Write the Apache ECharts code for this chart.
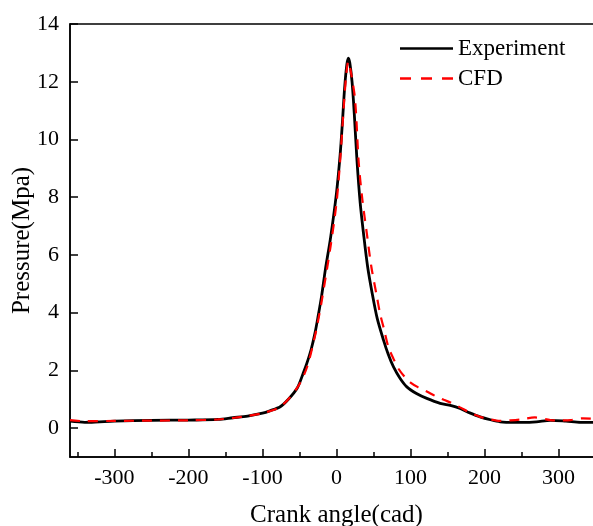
<!DOCTYPE html>
<html>
<head>
<meta charset="utf-8">
<script src="https://cdn.jsdelivr.net/npm/echarts@6/dist/echarts.min.js"></script>
<style>
html,body{margin:0;padding:0;background:#fff;}
#c{width:593px;height:526px;}
</style>
</head>
<body>
<div id="c"></div>
<script>
// Crank angle (cad) and pressure (MPa)
const expAngle = [-360,-340,-320,-300,-250,-200,-160,-140,-120,-100,-90,-76,-65,-53,-45,-40,-34,-29,-25,-20,-15,-8,0,5,8,11,14,16,18,21,24,27.6,32,36.5,42,48,55,63.5,70,77,86,95,108,122,140,155,167,180,194,208,221,240,253,270,289,310,330,360];
const expPressure = [0.24,0.2,0.22,0.24,0.27,0.28,0.3,0.36,0.42,0.52,0.6,0.74,1.0,1.39,1.9,2.25,2.75,3.3,3.85,4.6,5.5,6.6,8.15,9.5,10.6,11.8,12.6,12.82,12.65,12.0,10.9,9.3,7.8,6.74,5.6,4.7,3.8,3.05,2.55,2.12,1.72,1.43,1.2,1.03,0.86,0.78,0.68,0.53,0.39,0.29,0.22,0.2,0.2,0.22,0.27,0.24,0.2,0.2];
const cfdAngle = [-360,-340,-300,-250,-200,-160,-140,-120,-100,-76,-53,-40,-29,-25,-20,-8,0,5,10,13,16,19,25,30,35,41,47,54.6,59,64,70,77,84,92,100,110,122,133,145,155,167,180,194,208,221,235,248,268,289,300,316,333,350];
const cfdPressure = [0.28,0.24,0.25,0.26,0.27,0.3,0.35,0.42,0.52,0.74,1.4,2.1,3.2,3.7,4.4,6.3,7.8,9.3,11.2,12.2,12.7,12.4,11.4,9.2,7.9,6.74,5.6,4.55,3.95,3.45,2.82,2.4,2.05,1.78,1.58,1.42,1.27,1.12,0.98,0.88,0.72,0.54,0.39,0.3,0.25,0.27,0.3,0.37,0.28,0.27,0.28,0.34,0.32];
const xTicks = [-300,-200,-100,0,100,200,300];
const yTicks = [0,2,4,6,8,10,12,14];

const FONT = 'Liberation Serif';
const chart = echarts.init(document.getElementById('c'), null, {renderer:'canvas'});
chart.setOption({
  animation:false,
  backgroundColor:'#fff',
  grid:{left:70, top:24, right:-10, bottom:69, containLabel:false, outerBoundsMode:'none',
        show:true, borderColor:'#000', borderWidth:1.5, backgroundColor:'transparent'},
  legend:{
    orient:'vertical', left:400, top:37, padding:0,
    itemWidth:53, itemHeight:14, itemGap:7,
    textStyle:{fontFamily:FONT, fontSize:23, color:'#000', lineHeight:22},
    data:[
      {name:'Experiment', icon:'path://M0,0H53V2.4H0Z'},
      {name:'CFD', icon:'path://M0,0H11V2.4H0Z M21,0H32V2.4H21Z M42,0H53V2.4H42Z'}
    ]
  },
  xAxis:{
    type:'value', min:-360, max:360,
    name:'Crank angle(cad)', nameLocation:'middle', nameGap:46, nameMoveOverlap:false,
    nameTextStyle:{fontFamily:FONT, fontSize:25, color:'#000'},
    axisLine:{show:true, onZero:false, lineStyle:{color:'#000', width:1.5}},
    axisTick:{show:true, inside:true, length:8, customValues:xTicks, lineStyle:{color:'#000', width:1.5}},
    minorTick:{show:true, splitNumber:2, length:5, lineStyle:{color:'#000', width:1.5}},
    axisLabel:{customValues:xTicks, fontFamily:FONT, fontSize:22, color:'#000', margin:10},
    splitLine:{show:false}
  },
  yAxis:{
    type:'value', min:-1, max:14,
    name:'Pressure(Mpa)', nameLocation:'middle', nameGap:35, nameMoveOverlap:false,
    nameTextStyle:{fontFamily:FONT, fontSize:25, color:'#000'},
    axisLine:{show:true, onZero:false, lineStyle:{color:'#000', width:1.5}},
    axisTick:{show:true, inside:true, length:8, customValues:yTicks, lineStyle:{color:'#000', width:1.5}},
    axisLabel:{customValues:yTicks, fontFamily:FONT, fontSize:22, color:'#000', margin:11},
    splitLine:{show:false}
  },
  series:[
    {name:'Experiment', type:'line', symbol:'none', smooth:0.3, z:2,
     data:expAngle.map((a,i)=>[a,expPressure[i]]),
     lineStyle:{color:'#000', width:2.8}, itemStyle:{color:'#000'}},
    {name:'CFD', type:'line', symbol:'none', smooth:0.3, z:3,
     data:cfdAngle.map((a,i)=>[a,cfdPressure[i]]),
     lineStyle:{color:'#ff0000', width:2.2, type:[10,8]}, itemStyle:{color:'#ff0000'}}
  ]
});
</script>
</body>
</html>
